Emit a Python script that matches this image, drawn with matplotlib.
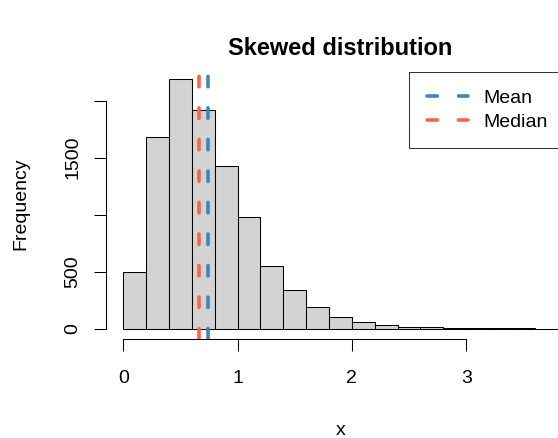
import numpy as np
import matplotlib
matplotlib.use("Agg")
from matplotlib import pyplot as plt

# histogram of a skewed sample, bins of width 0.2
bin_edges = [0.0, 0.2, 0.4, 0.6, 0.8, 1.0, 1.2, 1.4, 1.6, 1.8, 2.0,
             2.2, 2.4, 2.6, 2.8, 3.0, 3.2, 3.4, 3.6, 3.8]
counts = [497, 1679, 2188, 1918, 1427, 982, 547, 339, 193, 105,
          61, 30, 17, 12, 6, 4, 2, 2, 1]
mean_x = 0.744
median_x = 0.665
x_ticks = [0, 1, 2, 3]
y_ticks = [0, 500, 1000, 1500, 2000]
y_ticklabels = ["0", "500", "", "1500", ""]

plt.rcParams['font.family'] = ['Liberation Sans', 'DejaVu Sans']
plt.rcParams['lines.scale_dashes'] = False

fig = plt.figure(figsize=(5.58, 4.38), dpi=100)
# plot region runs past the right edge like the original (cropped) image
ax = fig.add_axes([105.9 / 558, 1 - 338.7 / 438, (575 - 105.9) / 558, (338.7 - 69.3) / 438])

lefts = bin_edges[:-1]
widths = np.diff(bin_edges)
ax.bar(lefts, counts, width=widths, align='edge', color='#D3D3D3',
       edgecolor='black', linewidth=0.75)

ax.axvline(mean_x, color='#4682B4', linewidth=2.6, dashes=(7.5, 15.2),
           dash_capstyle='round', label='Mean')
ax.axvline(median_x, color='#FF6347', linewidth=2.6, dashes=(7.5, 15.2),
           dash_capstyle='round', label='Median')

xmin, xmax = bin_edges[0], bin_edges[-1]
pad_x = 0.04 * (xmax - xmin)
ax.set_xlim(xmin - pad_x, xmax + pad_x)
ymax = max(counts)
ax.set_ylim(-0.04 * ymax, 1.04 * ymax)

for s in ['top', 'right']:
    ax.spines[s].set_visible(False)
ax.spines['bottom'].set_bounds(x_ticks[0], x_ticks[-1])
ax.spines['left'].set_bounds(y_ticks[0], y_ticks[-1])
ax.spines['bottom'].set_linewidth(0.75)
ax.spines['left'].set_linewidth(0.75)

ax.set_xticks(x_ticks)
ax.set_xticklabels([str(v) for v in x_ticks])
ax.set_yticks(y_ticks)
ax.set_yticklabels(y_ticklabels, rotation=90, va='center')
ax.tick_params(axis='both', length=8.5, width=0.75, labelsize=14)
ax.tick_params(axis='x', pad=14)
ax.tick_params(axis='y', pad=9)

ax.set_xlabel('x', fontsize=14, labelpad=25)
ax.set_ylabel('Frequency', fontsize=14, labelpad=25)
ax.set_title('Skewed distribution', fontsize=17, fontweight='bold', pad=10)

# legend box is wider than the image, as in the reference
leg = ax.legend(loc='upper left', mode='expand',
                bbox_to_anchor=(409.3 / 558, 1 - 72 / 438, 170 / 558, 0),
                bbox_transform=fig.transFigure, fontsize=14, frameon=True,
                fancybox=False, edgecolor='black', handlelength=2.1,
                handletextpad=0.8, labelspacing=0.3, borderpad=0.9,
                borderaxespad=0)
leg.get_frame().set_linewidth(0.75)

fig.savefig('out.png', dpi=100)
